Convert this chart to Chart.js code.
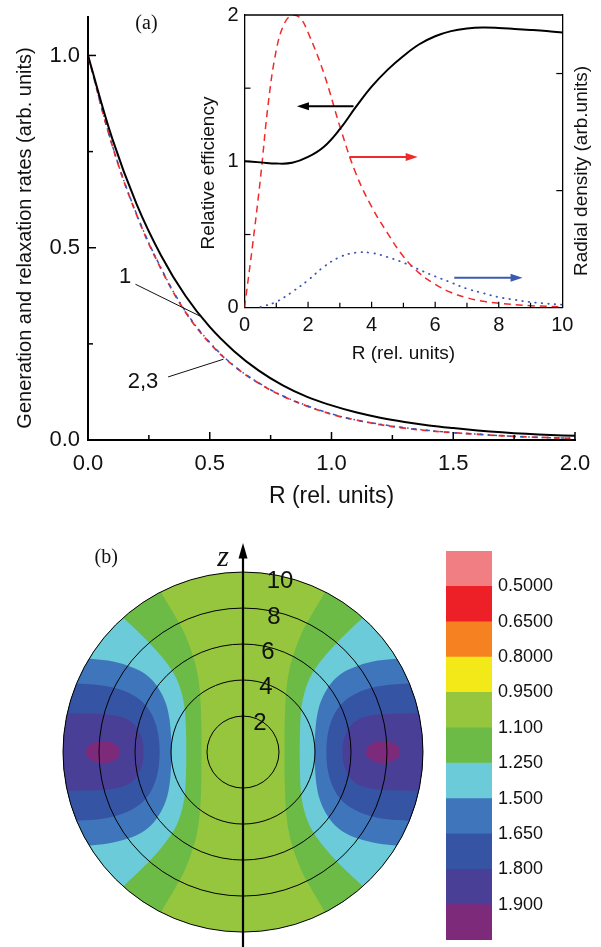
<!DOCTYPE html>
<html>
<head>
<meta charset="utf-8">
<script src="https://cdn.jsdelivr.net/npm/chart.js@4"></script>
<style>
  html, body { margin: 0; padding: 0; background: #fff; }
  #page { position: relative; width: 601px; height: 947px; overflow: hidden; background: #fff; }
  canvas { position: absolute; }
</style>
</head>
<body>
<div id="page">
  <canvas id="rateChart" width="601" height="515" style="left:0px;top:0px"></canvas>
  <canvas id="insetChart" width="406" height="365" style="left:195px;top:5px"></canvas>
  <canvas id="mapChart" width="380" height="407" style="left:53px;top:540px"></canvas>
  <canvas id="barChart" width="155" height="389" style="left:446px;top:551px"></canvas>
</div>
<script>
// ---- (a) main panel: rates vs R ----
const rGrid = [0, 0.1, 0.2, 0.3, 0.4, 0.5, 0.6, 0.7, 0.8, 0.9, 1.0, 1.1, 1.2, 1.3, 1.4, 1.5, 1.6, 1.7, 1.8, 1.9, 2.0];
const rate1 = [1.000, 0.783, 0.613, 0.480, 0.375, 0.294, 0.231, 0.181, 0.142, 0.112, 0.090, 0.072, 0.058, 0.047, 0.038, 0.031, 0.025, 0.020, 0.016, 0.013, 0.011];
const rate2 = [1.000, 0.765, 0.585, 0.445, 0.333, 0.252, 0.192, 0.148, 0.114, 0.088, 0.067, 0.052, 0.040, 0.031, 0.024, 0.019, 0.015, 0.011, 0.008, 0.006, 0.004];
const rate3 = [1.000, 0.766, 0.587, 0.447, 0.335, 0.254, 0.193, 0.149, 0.115, 0.089, 0.068, 0.052, 0.041, 0.032, 0.025, 0.019, 0.015, 0.011, 0.008, 0.006, 0.005];

// ---- inset: relative efficiency and radial densities ----
const effR = [0, 0.5, 1, 1.5, 2, 2.5, 3, 3.5, 4, 4.5, 5, 5.5, 6, 6.5, 7, 7.5, 8, 8.5, 9, 9.5, 10];
const efficiency = [1.00, 0.993, 0.985, 0.99, 1.03, 1.10, 1.22, 1.37, 1.51, 1.625, 1.72, 1.80, 1.855, 1.89, 1.908, 1.915, 1.912, 1.905, 1.898, 1.89, 1.88];
const densR = [0, 0.25, 0.5, 0.75, 1, 1.25, 1.5, 1.75, 2, 2.5, 3, 3.5, 4, 4.5, 5, 5.5, 6, 6.5, 7, 7.5, 8, 9, 10];
const densityRed = [0, 0.21, 0.44, 0.70, 0.88, 0.97, 1.00, 0.99, 0.94, 0.80, 0.62, 0.46, 0.345, 0.255, 0.175, 0.118, 0.08, 0.052, 0.034, 0.022, 0.015, 0.007, 0.003];
const blueR = [0.5, 1, 1.5, 2, 2.5, 3, 3.5, 4, 4.5, 5, 5.5, 6, 6.5, 7, 7.5, 8, 8.5, 9, 9.5, 10];
const densityBlue = [0.002, 0.02, 0.054, 0.094, 0.14, 0.173, 0.188, 0.187, 0.173, 0.154, 0.13, 0.107, 0.086, 0.065, 0.05, 0.036, 0.027, 0.019, 0.014, 0.010];

// ---- (b) contour map: iso-lines in the upper right quadrant [x, z] ----
const iso110 = [[2.31, 0], [2.31, 1.2], [2.34, 2.4], [2.42, 3.6], [2.6, 4.7], [2.9, 5.7], [3.3, 6.7], [3.85, 7.7], [4.5, 8.8], [4.8, 9.5]];
const iso125 = [[3.15, 0], [3.17, 1.3], [3.24, 2.4], [3.43, 3.35], [3.8, 4.28], [4.4, 5.15], [5.1, 5.95], [5.9, 6.75], [6.6, 7.4], [7.2, 8.0]];
const iso150 = [[3.98, 0], [4.0, 0.9], [4.08, 1.8], [4.25, 2.6], [4.55, 3.3], [5.0, 3.95], [5.6, 4.45], [6.4, 4.8], [7.5, 5.08], [8.6, 5.2], [9.6, 5.3]];
const iso165 = [[4.63, 0], [4.68, 0.8], [4.83, 1.5], [5.1, 2.15], [5.5, 2.7], [6.1, 3.15], [6.9, 3.5], [7.8, 3.7], [9.2, 3.81], [10.4, 3.85]];
const iso180 = [[5.52, 0], [5.58, 0.6], [5.75, 1.1], [6.05, 1.55], [6.5, 1.85], [7.1, 2.03], [8.0, 2.12], [9.8, 2.15], [10.6, 2.15]];
const peak190 = { x: 7.78, rx: 0.95, rz: 0.61 };
const ringRadii = [2, 4, 6, 8, 10];

// colour bar, top to bottom
const levelLabels = ['0.5000', '0.6500', '0.8000', '0.9500', '1.100', '1.250', '1.500', '1.650', '1.800', '1.900'];
const levelColors = ['#f07e82', '#ed2027', '#f68121', '#f3e918', '#96c63d', '#6cbb46', '#6ccbd9', '#3f76bb', '#3654a4', '#4a3f97', '#7e2a7b'];

Chart.defaults.font.family = '"Liberation Sans", Arial, sans-serif';
Chart.defaults.color = '#111';

const pts = (xs, ys) => xs.map((x, i) => ({ x: x, y: ys[i] }));

// ticks drawn inward from the frame
const innerTicks = {
  id: 'innerTicks',
  afterDraw(chart, args, opts) {
    const { ctx, chartArea: a } = chart;
    ctx.save();
    ctx.strokeStyle = '#000';
    ctx.lineWidth = opts.lineWidth || 1.5;
    (opts.marks || []).forEach(m => {
      const sc = chart.scales[m.scale];
      m.values.forEach(v => {
        const p = sc.getPixelForValue(v);
        ctx.beginPath();
        if (m.edge === 'bottom') { ctx.moveTo(p, a.bottom); ctx.lineTo(p, a.bottom - m.len); }
        if (m.edge === 'left') { ctx.moveTo(a.left, p); ctx.lineTo(a.left + m.len, p); }
        if (m.edge === 'right') { ctx.moveTo(a.right, p); ctx.lineTo(a.right - m.len, p); }
        ctx.stroke();
      });
    });
    ctx.restore();
  }
};

function noPad(s) { s.paddingTop = 0; s.paddingBottom = 0; s.paddingLeft = 0; s.paddingRight = 0; }

function arrow(ctx, x1, y1, x2, y2, color) {
  const ang = Math.atan2(y2 - y1, x2 - x1);
  ctx.save();
  ctx.strokeStyle = color; ctx.fillStyle = color; ctx.lineWidth = 2;
  ctx.beginPath();
  ctx.moveTo(x1, y1);
  ctx.lineTo(x2 - 9 * Math.cos(ang), y2 - 9 * Math.sin(ang));
  ctx.stroke();
  ctx.translate(x2, y2); ctx.rotate(ang);
  ctx.beginPath(); ctx.moveTo(0, 0); ctx.lineTo(-12, -4); ctx.lineTo(-12, 4); ctx.closePath(); ctx.fill();
  ctx.restore();
}

function vText(ctx, text, x, y, font) {
  ctx.save();
  ctx.fillStyle = '#111';
  ctx.font = font;
  ctx.textAlign = 'center'; ctx.textBaseline = 'middle';
  ctx.translate(x, y); ctx.rotate(-Math.PI / 2);
  ctx.fillText(text, 0, 0);
  ctx.restore();
}

// ----- main chart -----
const rateNotes = {
  id: 'rateNotes',
  afterDraw(chart) {
    const { ctx, scales: { x, y } } = chart;
    ctx.save();
    ctx.fillStyle = '#111'; ctx.strokeStyle = '#111'; ctx.lineWidth = 1;
    ctx.textAlign = 'center'; ctx.textBaseline = 'middle';
    ctx.font = '20px "Liberation Serif", "Times New Roman", serif';
    ctx.fillText('(a)', x.getPixelForValue(0.24), y.getPixelForValue(1.082));
    ctx.font = '22px "Liberation Sans", Arial, sans-serif';
    ctx.fillText('1', x.getPixelForValue(0.152), y.getPixelForValue(0.423));
    ctx.fillText('2,3', x.getPixelForValue(0.226), y.getPixelForValue(0.151));
    ctx.beginPath();
    ctx.moveTo(x.getPixelForValue(0.195), y.getPixelForValue(0.405));
    ctx.lineTo(x.getPixelForValue(0.467), y.getPixelForValue(0.320));
    ctx.moveTo(x.getPixelForValue(0.329), y.getPixelForValue(0.164));
    ctx.lineTo(x.getPixelForValue(0.556), y.getPixelForValue(0.210));
    ctx.stroke();
    ctx.restore();
    vText(ctx, 'Generation and relaxation rates (arb. units)', 25, 238, '20px "Liberation Sans", Arial, sans-serif');
  }
};

new Chart(document.getElementById('rateChart'), {
  type: 'line',
  data: {
    datasets: [
      { data: pts(rGrid, rate1), borderColor: '#000', borderWidth: 2, pointRadius: 0, tension: 0.4 },
      { data: pts(rGrid, rate3), borderColor: '#3b55b5', borderWidth: 1.5, borderDash: [4, 4, 1.5, 4], pointRadius: 0, tension: 0.4 },
      { data: pts(rGrid, rate2), borderColor: '#ee2a2a', borderWidth: 1.8, borderDash: [6, 5], pointRadius: 0, tension: 0.4 }
    ]
  },
  options: {
    responsive: false, animation: false,
    layout: { padding: { left: 0, top: 17, right: 26, bottom: 0 } },
    scales: {
      x: {
        type: 'linear', min: 0, max: 2,
        afterBuildTicks: s => { s.ticks = [0, 0.5, 1, 1.5, 2].map(v => ({ value: v })); },
        afterFit: s => { s.height = 75; noPad(s); },
        ticks: { callback: v => v.toFixed(1), font: { size: 22 }, padding: 11, maxRotation: 0 },
        grid: { display: false, drawTicks: false },
        border: { color: '#000', width: 2 },
        title: { display: true, text: 'R (rel. units)', font: { size: 23 }, padding: { top: 0, bottom: 5 } }
      },
      y: {
        min: 0, max: 1.1,
        afterBuildTicks: s => { s.ticks = [0, 0.5, 1].map(v => ({ value: v })); },
        afterFit: s => { s.width = 88; noPad(s); },
        ticks: { callback: v => v.toFixed(1), font: { size: 22 }, padding: 8 },
        grid: { display: false, drawTicks: false },
        border: { color: '#000', width: 2 }
      }
    },
    plugins: {
      legend: { display: false }, tooltip: { enabled: false },
      innerTicks: {
        lineWidth: 1.5,
        marks: [
          { scale: 'x', edge: 'bottom', values: [0.5, 1, 1.5, 2], len: 8 },
          { scale: 'x', edge: 'bottom', values: [0.25, 0.75, 1.25, 1.75], len: 5 },
          { scale: 'y', edge: 'left', values: [0.5, 1], len: 8 },
          { scale: 'y', edge: 'left', values: [0.25, 0.75], len: 5 }
        ]
      }
    }
  },
  plugins: [innerTicks, rateNotes]
});

// ----- inset -----
const insetNotes = {
  id: 'insetNotes',
  afterDraw(chart) {
    const { ctx, chartArea: a, scales: { x, y } } = chart;
    ctx.save();
    ctx.strokeStyle = '#000'; ctx.lineWidth = 1.3;
    ctx.beginPath(); ctx.moveTo(a.left, a.top); ctx.lineTo(a.right, a.top); ctx.stroke();
    ctx.restore();
    arrow(ctx, x.getPixelForValue(3.43), y.getPixelForValue(1.377), x.getPixelForValue(1.65), y.getPixelForValue(1.377), '#000');
    arrow(ctx, x.getPixelForValue(3.3), y.getPixelForValue(1.03), x.getPixelForValue(5.45), y.getPixelForValue(1.03), '#ee2a2a');
    arrow(ctx, x.getPixelForValue(6.6), y.getPixelForValue(0.205), x.getPixelForValue(8.75), y.getPixelForValue(0.205), '#3b5bb0');
    vText(ctx, 'Relative efficiency', 14, 168, '19px "Liberation Sans", Arial, sans-serif');
    vText(ctx, 'Radial density (arb.units)', 386.5, 166, '19px "Liberation Sans", Arial, sans-serif');
  }
};

new Chart(document.getElementById('insetChart'), {
  type: 'line',
  data: {
    datasets: [
      { data: pts(effR, efficiency), yAxisID: 'y', borderColor: '#000', borderWidth: 2, pointRadius: 0, tension: 0.4 },
      { data: pts(densR, densityRed), yAxisID: 'y1', borderColor: '#ee2a2a', borderWidth: 1.5, borderDash: [7, 5], pointRadius: 0, tension: 0.4 },
      { data: pts(blueR, densityBlue), yAxisID: 'y1', borderColor: '#3b55b5', borderWidth: 1.8, borderDash: [0.5, 6], borderCapStyle: 'round', pointRadius: 0, tension: 0.4 }
    ]
  },
  options: {
    responsive: false, animation: false,
    layout: { padding: { left: 0, top: 10, right: 0, bottom: 0 } },
    scales: {
      x: {
        type: 'linear', min: 0, max: 10,
        afterBuildTicks: s => { s.ticks = [0, 2, 4, 6, 8, 10].map(v => ({ value: v })); },
        afterFit: s => { s.height = 62.3; noPad(s); },
        ticks: { font: { size: 20 }, padding: 6, maxRotation: 0 },
        grid: { display: false, drawTicks: false },
        border: { color: '#000', width: 1.3 },
        title: { display: true, text: 'R (rel. units)', font: { size: 19 }, padding: { top: 0, bottom: 4.6 } }
      },
      y: {
        position: 'left', min: 0, max: 2,
        afterBuildTicks: s => { s.ticks = [0, 1, 2].map(v => ({ value: v })); },
        afterFit: s => { s.width = 49.5; noPad(s); },
        ticks: { font: { size: 20 }, padding: 6 },
        grid: { display: false, drawTicks: false },
        border: { color: '#000', width: 1.3 }
      },
      y1: {
        position: 'right', min: 0, max: 1,
        afterFit: s => { s.width = 38.7; noPad(s); },
        ticks: { display: false },
        grid: { display: false, drawTicks: false },
        border: { color: '#000', width: 1.3 }
      }
    },
    plugins: {
      legend: { display: false }, tooltip: { enabled: false },
      innerTicks: {
        lineWidth: 1.2,
        marks: [
          { scale: 'x', edge: 'bottom', values: [2, 4, 6, 8], len: 6 },
          { scale: 'x', edge: 'bottom', values: [1, 3, 5, 7, 9], len: 5 },
          { scale: 'y', edge: 'left', values: [0.5, 1, 1.5], len: 6 },
          { scale: 'y1', edge: 'right', values: [0.4, 0.8], len: 6 }
        ]
      }
    }
  },
  plugins: [innerTicks, insetNotes]
});

// ----- (b) contour map -----
const isoLevels = [
  { line: iso110, color: levelColors[5] },
  { line: iso125, color: levelColors[6] },
  { line: iso150, color: levelColors[7] },
  { line: iso165, color: levelColors[8] },
  { line: iso180, color: levelColors[9] }
];

// Catmull-Rom through the read points
function splineTrace(ctx, p) {
  ctx.moveTo(p[0].x, p[0].y);
  for (let i = 0; i < p.length - 1; i++) {
    const p0 = p[Math.max(i - 1, 0)], p1 = p[i], p2 = p[i + 1], p3 = p[Math.min(i + 2, p.length - 1)];
    ctx.bezierCurveTo(
      p1.x + (p2.x - p0.x) / 6, p1.y + (p2.y - p0.y) / 6,
      p2.x - (p3.x - p1.x) / 6, p2.y - (p3.y - p1.y) / 6,
      p2.x, p2.y
    );
  }
}

const mapPainter = {
  id: 'mapPainter',
  beforeDraw(chart) {
    const { ctx, scales: { x, y } } = chart;
    const px = v => x.getPixelForValue(v), py = v => y.getPixelForValue(v);
    const cx = px(0), cy = py(0);
    const outer = ringRadii[ringRadii.length - 1];
    const rad = r => px(r) - cx;

    ctx.save();
    ctx.beginPath(); ctx.arc(cx, cy, rad(outer), 0, 2 * Math.PI); ctx.clip();
    ctx.fillStyle = levelColors[4];
    ctx.fillRect(px(-outer), py(outer), rad(outer) * 2, rad(outer) * 2);

    isoLevels.forEach(lv => {
      const line = lv.line;
      const seq = line.slice().reverse().map(p => [p[0], -p[1]]).concat(line.slice(1));
      const zEnd = line[line.length - 1][1];
      [1, -1].forEach(side => {
        const p = seq.map(q => ({ x: px(side * q[0]), y: py(q[1]) }));
        ctx.beginPath();
        splineTrace(ctx, p);
        ctx.lineTo(px(side * (outer + 1)), py(zEnd));
        ctx.lineTo(px(side * (outer + 1)), py(-zEnd));
        ctx.closePath();
        ctx.fillStyle = lv.color;
        ctx.fill();
      });
    });
    [1, -1].forEach(side => {
      ctx.beginPath();
      ctx.ellipse(px(side * peak190.x), cy, rad(peak190.rx), rad(peak190.rz), 0, 0, 2 * Math.PI);
      ctx.fillStyle = levelColors[10];
      ctx.fill();
    });
    ctx.restore();

    ctx.save();
    ctx.strokeStyle = '#000'; ctx.lineWidth = 1;
    ringRadii.forEach(r => {
      ctx.beginPath(); ctx.arc(cx, cy, rad(r), 0, 2 * Math.PI); ctx.stroke();
    });
    // z axis
    ctx.lineWidth = 2.2;
    ctx.beginPath(); ctx.moveTo(cx, py(-11)); ctx.lineTo(cx, py(11.2)); ctx.stroke();
    ctx.fillStyle = '#000';
    ctx.beginPath();
    ctx.moveTo(cx, py(11.61)); ctx.lineTo(cx - 4.5, py(10.75)); ctx.lineTo(cx + 4.5, py(10.75)); ctx.closePath(); ctx.fill();

    ctx.fillStyle = '#111';
    ctx.textAlign = 'center'; ctx.textBaseline = 'middle';
    ctx.font = '24px "Liberation Sans", Arial, sans-serif';
    const ringLabelPos = [[0.94, 1.61], [1.28, 3.61], [1.39, 5.56], [1.72, 7.5], [2.06, 9.5]];
    ringRadii.forEach((r, i) => {
      ctx.fillText(String(r), px(ringLabelPos[i][0]), py(ringLabelPos[i][1]));
    });
    ctx.font = '20px "Liberation Serif", "Times New Roman", serif';
    ctx.fillText('(b)', px(-7.6), py(10.8));
    ctx.font = 'italic 30px "Liberation Serif", "Times New Roman", serif';
    ctx.fillText('z', px(-1.1), py(10.75));
    ctx.restore();
  }
};

new Chart(document.getElementById('mapChart'), {
  type: 'scatter',
  data: { datasets: [] },
  options: {
    responsive: false, animation: false,
    layout: { padding: 0 },
    scales: {
      x: { type: 'linear', min: -10.5556, max: 10.5556, display: false },
      y: { type: 'linear', min: -10.83, max: 11.78, display: false }
    },
    plugins: { legend: { display: false }, tooltip: { enabled: false } }
  },
  plugins: [mapPainter]
});

// ----- colour bar -----
const barSets = levelColors.slice().reverse().map(c => ({
  data: [1], backgroundColor: c, borderWidth: 0, barPercentage: 1, categoryPercentage: 1
}));

new Chart(document.getElementById('barChart'), {
  type: 'bar',
  data: { labels: ['scale'], datasets: barSets },
  options: {
    responsive: false, animation: false,
    layout: { padding: 0 },
    scales: {
      x: { stacked: true, display: false },
      y: {
        stacked: true, position: 'right', min: 0, max: levelColors.length,
        afterBuildTicks: s => { s.ticks = levelLabels.map((l, i) => ({ value: i + 1 })); },
        afterFit: s => { s.width = 109; noPad(s); },
        ticks: { font: { size: 18 }, padding: 6, callback: v => levelLabels[levelLabels.length - v] },
        grid: { display: false, drawTicks: false },
        border: { display: false }
      }
    },
    plugins: { legend: { display: false }, tooltip: { enabled: false } }
  }
});
</script>
</body>
</html>
